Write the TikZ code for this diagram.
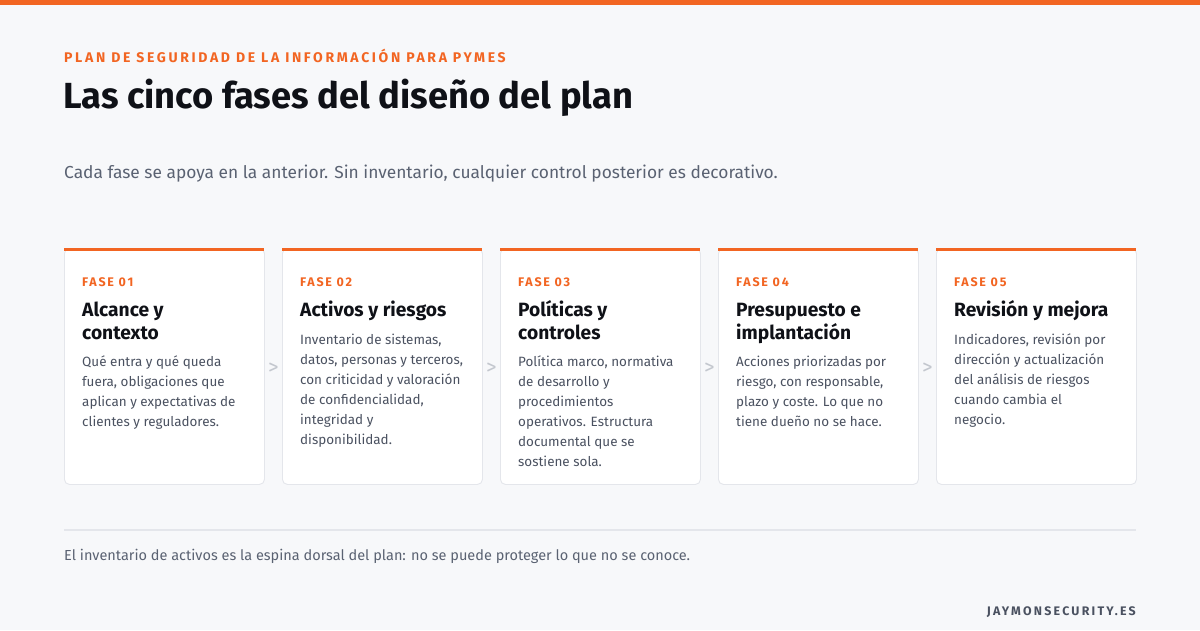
\documentclass[tikz,border=0pt]{standalone}
\usepackage{fontspec}
\setmainfont{Fira Sans}
\newfontfamily\spacedfont{Fira Sans}[LetterSpace=19]
\newfontfamily\phasefont{Fira Sans}[LetterSpace=14]
\newfontfamily\brandfont{Fira Sans}[LetterSpace=18]
\usetikzlibrary{calc}
\definecolor{bg}{HTML}{F7F8FA}
\definecolor{accent}{HTML}{F26522}
\definecolor{ink}{HTML}{0F1117}
\definecolor{subgray}{HTML}{5A6272}
\definecolor{bodygray}{HTML}{4A5160}
\definecolor{cardline}{HTML}{E4E6EB}
\definecolor{chevgray}{HTML}{C3C7CE}
\tikzset{
  card/.style={draw=cardline, line width=0.9pt, fill=white, rounded corners=5pt,
    minimum width=200pt, minimum height=236pt, anchor=north west, inner sep=0pt},
  topbar/.style={fill=accent},
  phase/.style={anchor=base west, inner sep=0pt, text=accent,
    font=\phasefont\bfseries\fontsize{12.5}{14}\selectfont},
  heading/.style={anchor=base west, inner sep=0pt, text=ink, align=left,
    font=\bfseries\fontsize{19.2}{23}\selectfont},
  body/.style={anchor=base west, inner sep=0pt, text=bodygray, align=left,
    font=\fontsize{13.45}{20}\selectfont},
  chev/.style={inner sep=0pt, text=chevgray, font=\fontsize{21}{21}\selectfont},
}
\begin{document}
\begin{tikzpicture}[x=1pt,y=-1pt]
\useasboundingbox (0,0) rectangle (1200,630);
\fill[bg] (0,0) rectangle (1200,630);
\fill[accent] (0,0) rectangle (1200,4.5);

\node[anchor=base west, inner sep=0pt, text=accent,
  font=\spacedfont\bfseries\fontsize{14}{16}\selectfont] (kicker) at (64,62)
  {PLAN DE SEGURIDAD DE LA INFORMACIÓN PARA PYMES};
\node[anchor=base west, inner sep=0pt, text=ink,
  font=\bfseries\fontsize{36.3}{40}\selectfont] (title) at (63,108)
  {Las cinco fases del diseño del plan};
\node[anchor=base west, inner sep=0pt, text=subgray,
  font=\fontsize{17.35}{22}\selectfont] (subtitle) at (64,178)
  {Cada fase se apoya en la anterior. Sin inventario, cualquier control posterior es decorativo.};

% cards
\foreach \i/\x in {1/64,2/282,3/500,4/718,5/936}{
  \node[card] (c\i) at (\x,248) {};
  \fill[topbar] (c\i.north west) rectangle ++(200,3);
}

% chevrons
\foreach \a/\b in {1/2,2/3,3/4,4/5}{
  \node[chev] (ch\a) at ($(c\a.east)!0.5!(c\b.west)+(0,2)$) {>};
}

% card 1
\node[phase] (p1) at (82,286) {FASE 01};
\node[heading] (h1) at (82,339) {Alcance y\\contexto};
\node[body] (b1) at (82,426) {Qué entra y qué queda\\fuera, obligaciones que\\aplican y expectativas de\\clientes y reguladores.};
% card 2
\node[phase] (p2) at (300,286) {FASE 02};
\node[heading] (h2) at (300,316) {Activos y riesgos};
\node[body] (b2) at (300,444) {Inventario de sistemas,\\datos, personas y terceros,\\con criticidad y valoración\\de confidencialidad,\\integridad y\\disponibilidad.};
% card 3
\node[phase] (p3) at (518,286) {FASE 03};
\node[heading] (h3) at (518,339) {Políticas y\\controles};
\node[body] (b3) at (518,466) {Política marco, normativa\\de desarrollo y\\procedimientos\\operativos. Estructura\\documental que se\\sostiene sola.};
% card 4
\node[phase] (p4) at (736,286) {FASE 04};
\node[heading] (h4) at (736,339) {Presupuesto e\\implantación};
\node[body] (b4) at (736,426) {Acciones priorizadas por\\riesgo, con responsable,\\plazo y coste. Lo que no\\tiene dueño no se hace.};
% card 5
\node[phase] (p5) at (954,286) {FASE 05};
\node[heading] (h5) at (954,316) {Revisión y mejora};
\node[body] (b5) at (954,424) {Indicadores, revisión por\\dirección y actualización\\del análisis de riesgos\\cuando cambia el\\negocio.};

% footer
\coordinate (dl) at (64,530);
\coordinate (dr) at (1136,530);
\draw[cardline, line width=1.2pt] (dl) -- (dr);
\node[anchor=base west, inner sep=0pt, text=subgray,
  font=\fontsize{14.5}{16}\selectfont] (note) at (64,560)
  {El inventario de activos es la espina dorsal del plan: no se puede proteger lo que no se conoce.};
\node[anchor=base east, inner sep=0pt, text=bodygray,
  font=\brandfont\bfseries\fontsize{12.4}{14}\selectfont] (brand) at (1136,615)
  {JAYMONSECURITY.ES};
\end{tikzpicture}
\end{document}
